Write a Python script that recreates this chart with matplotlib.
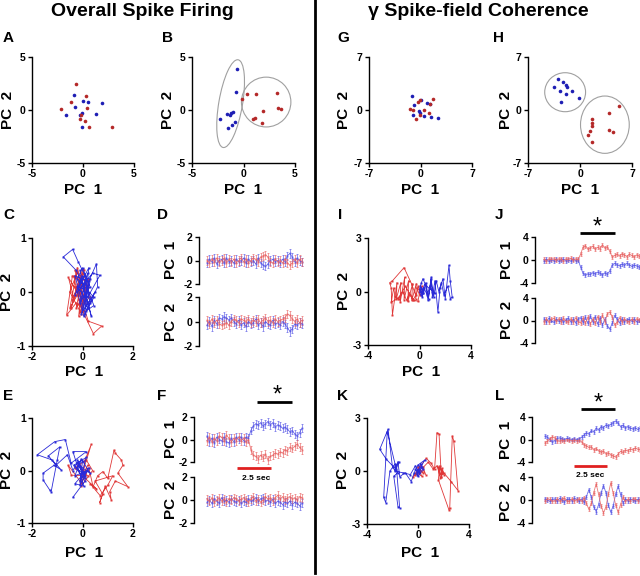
import numpy as np
import matplotlib
matplotlib.use("Agg")
import matplotlib.pyplot as plt
from matplotlib.patches import Ellipse
from matplotlib.lines import Line2D
from matplotlib.transforms import blended_transform_factory

plt.rcParams["font.family"] = ["Liberation Sans", "DejaVu Sans"]
plt.rcParams["font.weight"] = "bold"
plt.rcParams["axes.unicode_minus"] = False

W, H = 640, 576

# ---- data -------------------------------------------------------------
# A: overall firing, PCA of cells (blue / red groups)
a_blue_x = [-0.88, -0.03, 0.52, 1.83, -0.78, -1.7, -0.13, -0.29, 1.27, -0.13]
a_blue_y = [1.45, 0.88, 0.75, 0.63, 0.25, -0.44, -0.31, -0.47, -0.4, -1.63]
a_red_x = [-0.69, -2.16, -1.18, 0.29, 0.42, -0.29, 0.2, 0.62, 2.8, -0.2]
a_red_y = [2.45, 0.12, 0.75, 1.35, 0.22, -0.85, -1.0, -1.6, -1.6, -0.5]

# B
b_blue_x = [-0.6, -0.73, -2.28, -1.63, -1.31, -1.24, -0.99, -1.15, -1.47, -0.8]
b_blue_y = [3.9, 1.73, -0.88, -0.38, -0.47, -0.31, -0.16, -1.42, -1.73, -1.1]
b_red_x = [0.37, 1.21, 3.22, -0.15, 1.87, 3.33, 3.66, 1.15, 0.96, 1.83]
b_red_y = [1.5, 1.48, 1.63, 1.04, -0.06, 0.22, 0.06, -0.79, -0.88, -1.2]
# ellipses: (cx, cy, width, height, angle)
b_ellipses = [(-1.25, 0.6, 8.4, 2.3, 80), (2.2, 0.75, 4.8, 4.7, 0)]

# G: spike-field coherence
g_blue_x = [-1.2, 0.07, -0.84, 0.93, 1.29, -1.06, -0.24, -0.07, 0.48, 1.39, 2.42]
g_blue_y = [1.89, 1.32, 0.62, 0.97, 0.79, -0.66, -0.09, -0.35, -0.79, -0.97, -1.01]
g_red_x = [-1.43, -1.06, -0.38, -0.07, 1.66, 1.29, 0.48, -0.57, 1.2, -0.07]
g_red_y = [0.09, 0.0, 1.1, 1.32, 1.41, 0.75, 0.0, -1.23, -0.44, -0.66]

# H
h_blue_x = [-2.9, -3.5, -2.28, -1.92, -1.74, -2.73, -1.07, -1.92, -0.2, -2.5]
h_blue_y = [4.13, 3.0, 3.74, 3.26, 3.0, 2.55, 2.55, 2.11, 1.54, 1.02]
h_red_x = [5.2, 3.85, 1.55, 1.55, 1.55, 1.32, 1.01, 3.85, 4.47, 1.63]
h_red_y = [0.53, -0.35, -1.19, -1.76, -2.11, -2.77, -3.3, -2.64, -2.87, -4.19]
h_ellipses = [(-2.0, 2.35, 5.5, 5.15, 0), (3.35, -1.94, 6.56, 7.57, 0)]

# C: trajectories (overall firing, baseline)
c_blue_x = [0.05, 0.2, -0.1, 0.3, 0.0, -0.2, 0.45, 0.1, -0.3, 0.25,
            0.55, 0.6, 0.2, -0.1, 0.35, 0.0, -0.25, -0.76, -0.39, -0.17,
            0.1, 0.3, 0.05, -0.2, 0.4, 0.69, 0.2, -0.15, 0.15, 0.45,
            0.0, -0.3, 0.25, 0.1, 0.5, -0.05, 0.3, 0.15, -0.2, 0.05]
c_blue_y = [0.0, 0.35, -0.2, 0.1, 0.45, 0.25, -0.1, -0.4, 0.3, 0.2,
            0.52, 0.1, -0.3, 0.4, -0.45, 0.15, 0.4, 0.65, 0.79, 0.56,
            0.3, -0.2, -0.45, 0.0, 0.35, 0.31, -0.1, 0.2, -0.35, -0.25,
            0.3, -0.05, 0.45, -0.3, 0.0, -0.4, 0.25, -0.15, 0.1, 0.05]
c_red_x = [-0.1, -0.3, 0.1, -0.5, -0.2, 0.05, -0.56, -0.35, 0.0, -0.15,
           0.2, -0.4, -0.63, -0.25, 0.1, 0.23, 0.76, 0.43, 0.05, -0.2,
           -0.45, 0.0, 0.3, -0.1, -0.35, 0.15, -0.05, -0.5, -0.2, 0.1,
           -0.3, 0.0, 0.25, -0.15, -0.4, 0.05, -0.25, 0.15, -0.1, -0.05]
c_red_y = [0.05, 0.4, 0.2, -0.3, 0.45, -0.2, 0.27, -0.1, 0.35, -0.45,
           0.1, 0.3, -0.43, -0.2, -0.35, -0.54, -0.63, -0.77, -0.4, 0.15,
           -0.3, 0.42, -0.1, -0.25, 0.3, 0.2, -0.4, 0.0, 0.38, -0.2,
           0.1, -0.35, 0.25, 0.0, -0.15, 0.4, -0.3, 0.05, 0.2, -0.1]

# E
e_blue_x = [0.0, -0.2, 0.1, -0.35, 0.15, -0.1, 0.25, -0.3, 0.05, -0.38,
            0.15, -0.45, -0.68, -1.1, -1.79, -1.2, -0.84, -1.13, -1.56, -1.56,
            -1.3, -1.24, -1.0, -0.9, -1.35, -1.05, -0.6, -0.38, -0.2, 0.1,
            -0.15, 0.3, -0.05, -0.3, 0.2, -0.1, 0.0, -0.25, 0.1, -0.38]
e_blue_y = [0.0, 0.2, -0.1, 0.1, 0.25, -0.2, 0.05, -0.25, -0.3, 0.36,
            0.36, 0.14, 0.59, 0.55, 0.3, 0.2, 0.01, 0.1, -0.05, -0.18,
            -0.37, -0.4, 0.2, 0.45, 0.28, 0.1, 0.3, 0.0, 0.15, -0.15,
            0.1, -0.05, 0.22, -0.1, 0.0, -0.28, 0.18, 0.05, -0.2, -0.51]
e_red_x = [0.0, -0.2, 0.2, -0.44, -0.57, -0.1, 0.35, 0.1, -0.05, 0.25,
           0.42, 0.6, 0.81, 1.0, 1.25, 1.3, 1.54, 1.6, 1.4, 1.8,
           1.3, 1.08, 1.14, 0.9, 0.68, 0.8, 0.5, 1.2, 1.0, 0.7,
           0.3, 0.55, 0.0, 0.2, -0.05, 0.4, 0.15, -0.3, 0.1, -0.1]
e_red_y = [0.0, 0.15, -0.1, -0.09, 0.1, -0.2, 0.5, 0.2, -0.24, 0.05,
           -0.31, -0.1, -0.02, -0.15, 0.39, 0.33, 0.2, 0.1, -0.05, -0.31,
           -0.2, -0.4, -0.56, -0.3, -0.61, -0.45, -0.2, -0.1, -0.28, -0.48,
           -0.25, -0.35, -0.1, 0.1, -0.3, 0.0, 0.2, 0.05, -0.15, 0.1]

# I
i_blue_x = [0.0, 0.15, 0.27, 0.5, 0.66, 0.91, 1.0, 1.2, 1.43, 1.6,
            1.82, 2.0, 2.29, 2.39, 2.54, 2.4, 2.2, 1.9, 1.7, 1.5,
            1.3, 1.1, 0.9, 0.7, 0.5, 0.3, 0.2, 0.35, 0.6, 0.8,
            1.0, 1.2, 0.4, 0.1, 0.25, 0.05, 0.3, 0.15, 0.0, 0.2]
i_blue_y = [0.1, 0.5, 0.72, 0.3, -0.5, 0.81, -0.3, 0.6, -1.15, 0.2,
            0.72, -0.4, 1.47, 0.57, -0.31, -0.4, 0.3, -0.2, 0.5, 0.0,
            0.6, -0.3, 0.7, -0.4, 0.5, -0.1, -0.3, 0.2, -0.2, 0.3,
            0.0, -0.1, 0.4, -0.2, 0.1, 0.3, -0.1, 0.2, -0.05, 0.0]
i_red_x = [0.1, -0.1, -0.3, -0.25, -0.6, -0.55, -0.9, -0.85, -1.2, -1.15,
           -1.5, -1.45, -1.8, -1.75, -2.1, -2.2, -2.31, -2.1, -1.2, -0.6,
           -0.3, -0.5, -0.8, -1.0, -1.3, -1.6, -1.9, -2.0, -2.2, -1.7,
           -1.4, -1.1, -0.7, -0.4, -0.12, 0.05, 0.2, 0.0, -0.2, 0.1]
i_red_y = [0.0, 0.3, -0.4, 0.44, -0.5, 0.4, -0.55, 0.6, -0.45, 0.8,
           -0.6, 0.5, -0.4, 0.5, -1.3, 0.2, 0.5, 0.6, 1.34, 0.4,
           -0.2, -0.5, -0.1, -0.5, 0.0, -0.4, -0.3, 0.2, -0.6, -0.4,
           -0.1, 0.3, -0.2, -0.5, -0.55, 0.1, 0.3, -0.2, 0.2, 0.0]

# K
k_blue_x = [0.0, 0.2, 0.53, 0.0, -0.3, -0.53, -1.0, -1.44, -1.57, -1.83,
            -2.0, -2.35, -3.0, -2.48, -2.0, -1.7, -2.41, -2.69, -2.53, -2.2,
            -1.8, -1.6, -1.9, -1.57, -1.44, -1.7, -1.5, -1.83, -1.2, -0.6,
            -0.2, 0.1, 0.3, -0.1, 0.2, 0.4, 0.0, -0.2, 0.1, 0.0]
k_blue_y = [0.0, 0.2, 0.62, 0.34, -0.1, -0.6, -0.1, -0.32, 0.53, 0.06,
            0.2, 2.36, 1.23, 0.66, 0.3, 0.1, 2.23, -1.49, -1.79, 0.0,
            0.4, -0.1, -0.3, -2.02, -2.08, 0.3, 0.5, 0.0, -0.1, -0.2,
            0.3, -0.1, 0.2, -0.2, 0.4, 0.1, -0.3, 0.1, -0.1, 0.05]
k_red_x = [0.0, 0.13, -0.39, 0.1, 0.65, 1.04, 1.3, 1.49, 1.65, 1.83,
           1.9, 2.0, 1.7, 1.6, 2.43, 2.49, 2.69, 2.8, 3.14, 2.6,
           1.9, 1.83, 1.6, 2.0, 1.75, 1.5, 1.2, 0.8, 0.4, 0.6,
           0.2, -0.1, 0.3, 0.0, 0.2, -0.2, 0.1, 0.4, 0.0, 0.1]
k_red_y = [0.0, -0.04, -0.32, 0.2, 0.72, 0.43, 0.1, 2.17, 2.09, -0.32,
           0.15, -0.2, 0.3, -0.5, -2.21, -2.11, 1.98, 1.72, -1.11, -0.6,
           0.0, -0.32, 0.2, -0.1, -0.4, 0.3, 0.1, 0.5, 0.2, -0.2,
           0.3, -0.1, -0.3, 0.2, 0.0, -0.2, 0.1, -0.1, 0.2, 0.0]

# D, F, J, L: PC time courses (mean +- error)
d1_blue = [-0.2, 0.1, -0.1, 0.2, -0.3, 0.0, 0.1, -0.2, 0.2, -0.1,
           0.0, -0.2, 0.1, -0.1, 0.0, 0.2, -0.2, 0.1, -0.1, 0.0,
           -0.3, 0.2, -0.2, -0.4, -0.5, -0.3, 0.0, 0.1, -0.1, 0.0,
           -0.2, 0.1, -0.1, 0.4, 0.6, 0.3, -0.1, 0.2, 0.0, -0.1]
d1_red = [0.0, -0.2, 0.1, -0.1, 0.2, -0.1, 0.0, 0.2, -0.2, 0.1,
          -0.1, 0.1, -0.2, 0.0, 0.2, -0.1, 0.1, -0.2, 0.0, 0.2,
          0.1, -0.1, 0.3, 0.4, 0.5, 0.3, -0.1, -0.2, 0.1, -0.1,
          0.0, -0.2, 0.1, -0.2, -0.4, -0.2, 0.1, -0.2, 0.1, -0.1]
d2_blue = [-0.3, 0.0, -0.4, 0.1, -0.2, 0.3, 0.2, 0.4, 0.3, 0.1,
           0.3, 0.0, -0.2, 0.1, -0.3, -0.1, -0.4, 0.0, -0.2, -0.1,
           0.2, -0.3, -0.1, -0.4, 0.0, -0.2, -0.3, 0.1, -0.2, -0.1,
           -0.3, 0.0, -0.2, -0.5, -0.8, -0.6, -0.2, -0.3, -0.1, -0.2]
d2_red = [0.1, -0.2, 0.2, -0.1, 0.1, -0.2, -0.3, -0.2, -0.1, -0.3,
          0.0, 0.2, 0.1, -0.1, 0.2, 0.1, 0.0, 0.2, -0.1, 0.1,
          0.0, 0.2, -0.1, 0.1, 0.3, 0.0, 0.1, -0.1, 0.2, 0.0,
          0.1, 0.2, 0.3, 0.6, 0.5, 0.2, 0.0, 0.2, -0.1, 0.1]

f1_blue = [0.3, -0.2, 0.1, -0.3, 0.2, 0.0, -0.1, 0.2, -0.2, -0.3,
           0.1, -0.2, 0.2, 0.0, 0.2, -0.1, 0.2, 0.1, 0.8, 1.2,
           1.4, 1.3, 1.5, 1.2, 1.4, 1.6, 1.3, 1.5, 1.1, 1.3,
           1.2, 1.0, 1.1, 0.9, 0.7, 0.8, 0.5, 0.3, 0.6, 1.0]
f1_red = [-0.1, 0.2, -0.2, 0.1, -0.1, 0.3, 0.2, -0.1, 0.4, 0.1,
          -0.2, 0.1, -0.1, 0.2, -0.1, 0.1, -0.2, 0.0, -0.9, -1.4,
          -1.5, -1.7, -1.4, -1.6, -1.3, -1.8, -1.5, -1.4, -1.2, -1.3,
          -1.1, -1.2, -0.9, -1.0, -0.7, -0.8, -0.6, -0.4, -0.7, -0.9]
f2_blue = [-0.2, 0.0, -0.3, 0.1, -0.1, -0.3, 0.2, -0.1, 0.0, -0.2,
           0.1, -0.1, -0.2, 0.0, -0.3, -0.1, -0.2, 0.1, -0.1, 0.0,
           0.2, -0.1, 0.1, 0.2, -0.1, 0.0, -0.2, 0.1, -0.3, -0.1,
           -0.2, -0.4, -0.2, -0.3, -0.1, -0.4, -0.2, -0.3, -0.5, -0.3]
f2_red = [0.1, -0.1, 0.2, -0.2, 0.0, 0.2, -0.1, 0.1, -0.2, 0.1,
          0.0, 0.2, 0.1, -0.1, 0.1, 0.2, 0.0, -0.2, 0.1, 0.3,
          -0.1, 0.1, -0.2, 0.0, 0.3, 0.1, 0.2, -0.1, 0.2, 0.4,
          0.1, 0.3, 0.0, 0.2, 0.3, 0.1, 0.2, 0.0, 0.3, 0.2]

j1_blue = [-0.1, 0.1, -0.2, 0.0, -0.1, 0.1, -0.2, 0.0, 0.1, -0.1,
           0.0, -0.2, 0.1, -0.1, 0.0, -1.2, -2.3, -2.6, -2.4, -2.5,
           -2.2, -2.4, -2.1, -2.3, -2.6, -2.2, -2.5, -1.9, -0.9, -0.6,
           -0.8, -1.0, -0.7, -0.9, -0.6, -0.8, -1.1, -0.9, -1.0, -1.2]
j1_red = [0.1, -0.1, 0.2, 0.1, 0.2, 0.0, 0.2, 0.1, -0.1, 0.2,
          0.1, 0.3, 0.0, 0.2, 0.1, 1.0, 2.2, 2.5, 1.9, 2.1,
          2.4, 1.9, 2.2, 2.0, 2.6, 2.1, 2.3, 1.5, 0.5, 0.8,
          1.0, 0.7, 1.1, 0.9, 0.6, 1.0, 0.8, 0.5, 0.9, 0.7]
j2_blue = [0.3, -0.2, 0.4, 0.0, -0.3, 0.2, -0.1, 0.3, -0.3, 0.1,
           0.4, -0.2, 0.2, -0.4, 0.3, 0.5, -0.3, 0.6, -0.5, 0.8,
           -0.2, 0.7, -0.6, 0.5, -0.8, 0.3, -1.0, -1.5, -0.5, 0.9,
           0.2, -0.4, 0.3, -0.2, 0.1, 0.2, -0.1, 0.3, -0.2, 0.0]
j2_red = [-0.2, 0.3, -0.3, 0.2, 0.4, -0.1, 0.3, -0.2, 0.4, -0.1,
          -0.3, 0.3, -0.2, 0.5, -0.2, -0.4, 0.4, -0.5, 0.6, -0.6,
          0.3, -0.5, 0.7, -0.3, 0.9, -0.2, 1.2, 1.5, 0.6, -0.8,
          -0.3, 0.5, -0.2, 0.3, -0.1, -0.2, 0.2, -0.2, 0.3, 0.1]

l1_blue = [0.6, 0.4, 0.0, -0.4, -0.2, 0.2, 0.3, 0.1, 0.0, 0.2,
           0.1, 0.0, 0.1, 0.0, 0.1, 0.4, 0.8, 1.2, 1.0, 1.6,
           1.4, 2.0, 1.7, 2.3, 2.1, 2.6, 2.4, 2.7, 3.0, 3.3,
           2.9, 2.3, 2.5, 2.1, 2.3, 2.0, 1.9, 2.1, 1.8, 2.0]
l1_red = [-0.6, -0.3, 0.1, 0.5, 0.3, -0.2, -0.3, -0.1, -0.2, 0.0,
          -0.1, -0.2, -0.1, -0.2, -0.1, -0.4, -0.9, -1.1, -1.4, -1.3,
          -1.8, -1.6, -2.0, -2.2, -2.1, -2.5, -2.4, -2.7, -2.9, -3.1,
          -2.6, -2.1, -2.3, -1.9, -2.0, -1.7, -1.8, -1.5, -1.7, -1.8]
l2_blue = [0.2, 0.0, -0.2, 0.1, 0.2, -0.2, 0.3, 0.0, -0.3, 0.1,
           0.2, -0.1, 0.3, 0.1, -0.2, 0.2, -0.4, 0.6, 1.8, 0.5,
           -1.2, -2.0, -0.8, 1.2, 2.5, 1.3, -0.9, -2.1, -1.0, 1.0,
           2.4, 1.0, -0.5, 0.2, -0.1, 0.2, 0.0, -0.1, 0.1, 0.0]
l2_red = [-0.1, 0.2, 0.1, -0.2, -0.1, 0.2, -0.2, 0.1, 0.3, -0.1,
          -0.2, 0.2, -0.1, 0.0, 0.2, -0.2, 0.4, -0.6, -1.6, -0.6,
          1.3, 2.8, 1.0, -1.0, -2.2, -1.2, 1.0, 3.0, 1.2, -0.9,
          -2.1, -0.8, 0.5, -0.2, 0.1, -0.1, 0.1, 0.2, -0.1, 0.1]

err_small = 0.35   # error bar half-length, +-2 panels
err_large = 0.35   # error bar half-length, +-4 panels

# significance window (time-bin index) and scale bar window
f_sig = (20.5, 34.9)
f_scale = (12.3, 26.3)
j_sig = (14.8, 29.1)
l_sig = (14.8, 28.7)
l_scale = (11.9, 25.5)

BLUE = "#1e1eb4"
RED = "#b42828"
BLUE_T = "#2a2ad8"
RED_T = "#e03838"
BLUE_S = "#5656e6"
RED_S = "#e86464"
GRAY = "#a0a0a0"


def add_ax(fig, left, top, right, bottom):
    ax = fig.add_axes([left / W, 1 - bottom / H, (right - left) / W, (bottom - top) / H])
    ax.patch.set_visible(False)
    return ax


def fig_text(fig, x, y, s, **kw):
    fig.text(x / W, 1 - y / H, s, **kw)


def base_style(ax):
    for side in ("top", "right"):
        ax.spines[side].set_visible(False)
    for side in ("left", "bottom"):
        ax.spines[side].set_linewidth(1.0)
    ax.tick_params(direction="out", length=3, width=1, labelsize=7.5, pad=1.5)


def scatter_panel(fig, box, lim, bx, by, rx, ry, ellipses=None):
    ax = add_ax(fig, *box)
    ax.set_xlim(-lim, lim)
    ax.set_ylim(-lim, lim)
    ticks = [-lim, 0, lim]
    ax.set_xticks(ticks)
    ax.set_yticks(ticks)
    ax.set_xticklabels([str(t) for t in ticks])
    ax.set_yticklabels([str(t) for t in ticks])
    base_style(ax)
    ax.plot(bx, by, "o", color=BLUE, ms=2.6, mec="none")
    ax.plot(rx, ry, "o", color=RED, ms=2.6, mec="none")
    for cx, cy, w, h, ang in (ellipses or []):
        ax.add_patch(Ellipse((cx, cy), w, h, angle=ang, fill=False,
                             ec=GRAY, lw=0.8))
    return ax


def traj_panel(fig, box, xlim, ylim, bx, by, rx, ry):
    ax = add_ax(fig, *box)
    ax.set_xlim(-xlim, xlim)
    ax.set_ylim(-ylim, ylim)
    ax.set_xticks([-xlim, 0, xlim])
    ax.set_yticks([-ylim, 0, ylim])
    ax.set_xticklabels([str(t) for t in (-xlim, 0, xlim)])
    ax.set_yticklabels([str(t) for t in (-ylim, 0, ylim)])
    base_style(ax)
    ax.plot(rx, ry, "-s", color=RED_T, lw=0.6, ms=1.6, mec="none")
    ax.plot(bx, by, "-s", color=BLUE_T, lw=0.6, ms=1.6, mec="none")
    return ax


STEP = 95 / 39.0   # pixels per time bin


def ts_panel(fig, left, top, right, bottom, data_start, lim, blue, red, err):
    ax = add_ax(fig, left, top, right, bottom)
    x0 = -(data_start - left) / STEP
    ax.set_xlim(x0, x0 + (right - left) / STEP)
    ax.set_ylim(-lim, lim)
    for side in ("top", "right", "bottom"):
        ax.spines[side].set_visible(False)
    ax.spines["left"].set_linewidth(1.0)
    ax.set_xticks([])
    ax.set_yticks([-lim, 0, lim])
    ax.set_yticklabels([str(t) for t in (-lim, 0, lim)])
    ax.tick_params(direction="out", length=3, width=1, labelsize=7.5, pad=1.5)
    for vals, col in ((blue, BLUE_S), (red, RED_S)):
        xs = np.arange(len(vals))
        ax.errorbar(xs, vals, yerr=err, color=col, lw=0.6, elinewidth=0.5,
                    capsize=0.8, capthick=0.5, marker="s", ms=1.3,
                    mec="none", alpha=0.85, clip_on=False)
    return ax


def hbar(ax, span, yfrac, color, lw):
    tr = blended_transform_factory(ax.transData, ax.transAxes)
    ax.plot(list(span), [yfrac, yfrac], color=color, lw=lw, transform=tr,
            clip_on=False, solid_capstyle="butt")


def htext(ax, xval, yfrac, s, **kw):
    tr = blended_transform_factory(ax.transData, ax.transAxes)
    ax.text(xval, yfrac, s, transform=tr, ha="center", va="center",
            clip_on=False, zorder=10, **kw)


fig = plt.figure(figsize=(W / 100, H / 100), dpi=100)

# titles and divider
fig_text(fig, 142, 12, "Overall Spike Firing", fontsize=14, ha="center", va="center")
fig_text(fig, 478, 12, "\u03b3 Spike-field Coherence", fontsize=14, ha="center", va="center")
fig.add_artist(Line2D([315 / W, 315 / W], [0.005, 1.0], color="black", lw=2,
                      transform=fig.transFigure))

letter_kw = dict(fontsize=11, ha="left", va="top")
lab_kw = dict(fontsize=11, ha="center", va="center")

# row 1
scatter_panel(fig, (32, 57, 134, 163), 5, a_blue_x, a_blue_y, a_red_x, a_red_y)
scatter_panel(fig, (192, 57, 295, 163), 5, b_blue_x, b_blue_y, b_red_x, b_red_y,
              b_ellipses)
scatter_panel(fig, (369, 57, 472, 163), 7, g_blue_x, g_blue_y, g_red_x, g_red_y)
scatter_panel(fig, (528, 57, 632, 163), 7, h_blue_x, h_blue_y, h_red_x, h_red_y,
              h_ellipses)
for lx, s in ((3, "A"), (162, "B"), (337, "G"), (493, "H")):
    fig_text(fig, lx, 31, s, **letter_kw)
for cx, yl in ((83, 8), (243, 168), (420, 344), (580, 506)):
    fig_text(fig, cx, 190, "PC  1", **lab_kw)
    fig_text(fig, yl, 110, "PC  2", rotation=90, **lab_kw)

# row 2
traj_panel(fig, (32, 238, 133, 346), 2, 1, c_blue_x, c_blue_y, c_red_x, c_red_y)
traj_panel(fig, (368, 238, 471, 345), 4, 3, i_blue_x, i_blue_y, i_red_x, i_red_y)
ts_panel(fig, 199, 237, 305, 284, 207, 2, d1_blue, d1_red, err_small)
ts_panel(fig, 199, 297, 305, 346, 207, 2, d2_blue, d2_red, err_small)
axj1 = ts_panel(fig, 535, 237, 640, 283, 544, 4, j1_blue, j1_red, err_large)
ts_panel(fig, 535, 298, 640, 343, 544, 4, j2_blue, j2_red, err_large)
for lx, s in ((3, "C"), (157, "D"), (338, "I"), (495, "J")):
    fig_text(fig, lx, 208, s, **letter_kw)
fig_text(fig, 84, 372, "PC  1", **lab_kw)
fig_text(fig, 7, 292, "PC  2", rotation=90, **lab_kw)
fig_text(fig, 421, 372, "PC  1", **lab_kw)
fig_text(fig, 344, 291, "PC  2", rotation=90, **lab_kw)
fig_text(fig, 171, 260, "PC  1", rotation=90, **lab_kw)
fig_text(fig, 171, 322, "PC  2", rotation=90, **lab_kw)
fig_text(fig, 507, 260, "PC  1", rotation=90, **lab_kw)
fig_text(fig, 507, 320, "PC  2", rotation=90, **lab_kw)
hbar(axj1, j_sig, 1.087, "black", 2)
htext(axj1, sum(j_sig) / 2, 1.21, "*", fontsize=17, fontweight="normal")

# row 3
traj_panel(fig, (32, 418, 133, 523), 2, 1, e_blue_x, e_blue_y, e_red_x, e_red_y)
traj_panel(fig, (367, 418, 469, 524), 4, 3, k_blue_x, k_blue_y, k_red_x, k_red_y)
axf1 = ts_panel(fig, 194, 417, 305, 462, 207, 2, f1_blue, f1_red, err_small)
ts_panel(fig, 194, 477, 305, 523, 207, 2, f2_blue, f2_red, err_small)
axl1 = ts_panel(fig, 532, 417, 640, 462, 545, 4, l1_blue, l1_red, err_large)
ts_panel(fig, 532, 477, 640, 523, 545, 4, l2_blue, l2_red, err_large)
for lx, s in ((3, "E"), (157, "F"), (337, "K"), (495, "L")):
    fig_text(fig, lx, 389, s, **letter_kw)
fig_text(fig, 84, 553, "PC  1", **lab_kw)
fig_text(fig, 7, 470, "PC  2", rotation=90, **lab_kw)
fig_text(fig, 420, 553, "PC  1", **lab_kw)
fig_text(fig, 343, 470, "PC  2", rotation=90, **lab_kw)
fig_text(fig, 171, 439, "PC  1", rotation=90, **lab_kw)
fig_text(fig, 171, 500, "PC  2", rotation=90, **lab_kw)
fig_text(fig, 506, 440, "PC  1", rotation=90, **lab_kw)
fig_text(fig, 506, 502, "PC  2", rotation=90, **lab_kw)

hbar(axf1, f_sig, 1.333, "black", 2)
htext(axf1, sum(f_sig) / 2 + 1, 1.48, "*", fontsize=17, fontweight="normal")
hbar(axf1, f_scale, -0.133, "#e02020", 2)
htext(axf1, sum(f_scale) / 2 + 0.8, -0.36, "2.5 sec", fontsize=6)

hbar(axl1, l_sig, 1.18, "black", 2)
htext(axl1, sum(l_sig) / 2, 1.3, "*", fontsize=17, fontweight="normal")
hbar(axl1, l_scale, -0.089, "#e02020", 2)
htext(axl1, sum(l_scale) / 2, -0.29, "2.5 sec", fontsize=6)

fig.savefig("out.png", dpi=100)
